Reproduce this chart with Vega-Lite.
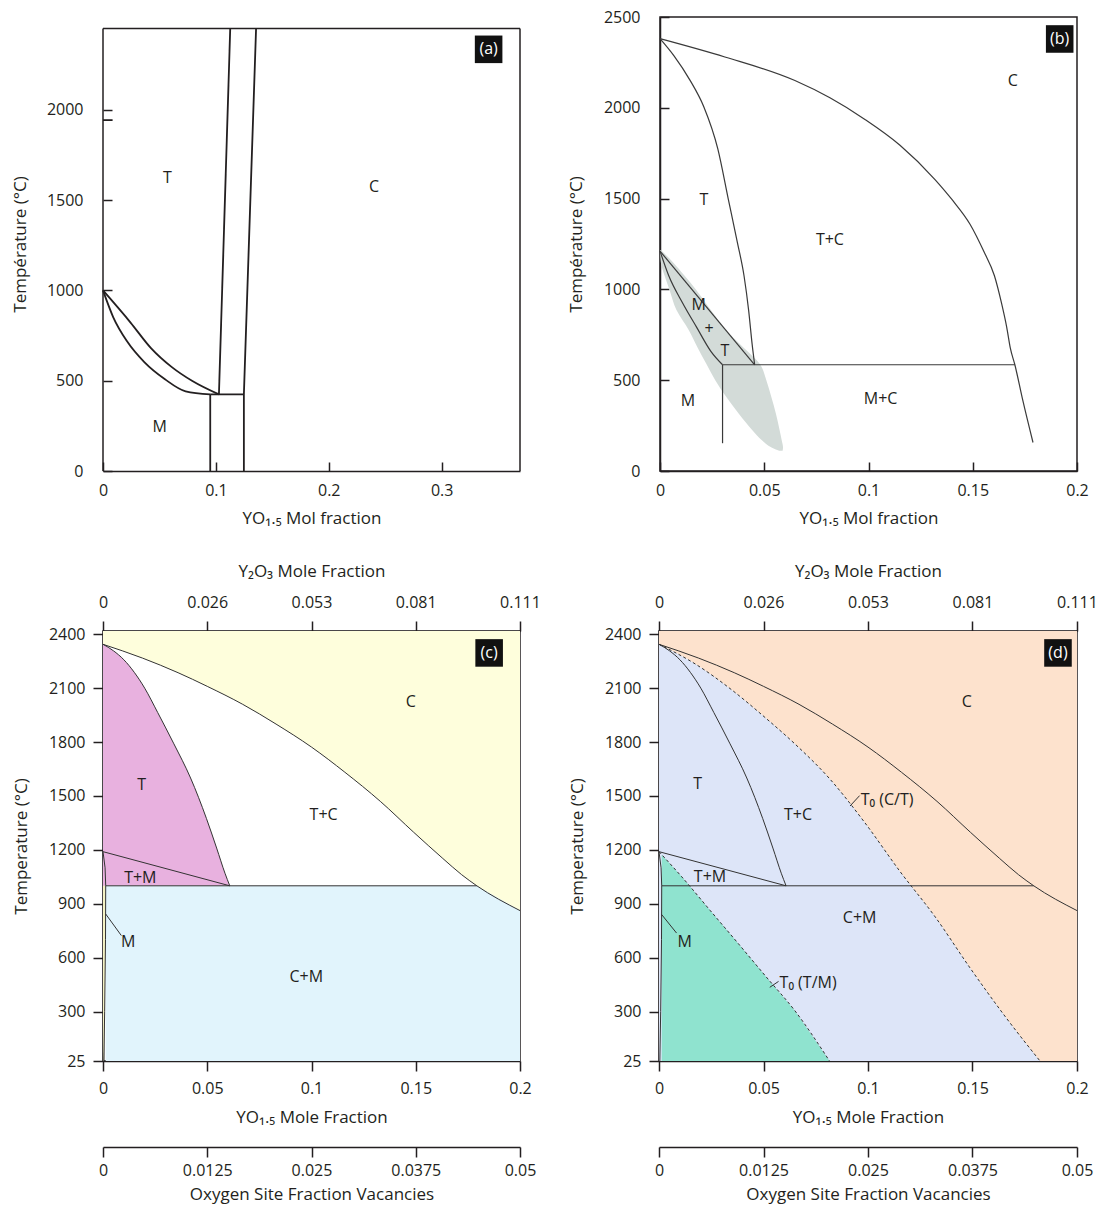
{
  "$schema": "https://vega.github.io/schema/vega-lite/v6.json",
  "background": "white",
  "padding": {"left": 11, "top": 8, "right": 0, "bottom": 0},
  "config": {
    "font": "Open Sans",
    "view": {"stroke": "#231f20", "strokeWidth": 1.5},
    "axis": {"labelFont": "Open Sans", "labelFontSize": 16, "labelColor": "#231f20", "titleFont": "Open Sans", "titleFontSize": 17, "titleFontWeight": "normal", "titleColor": "#231f20", "domainColor": "#231f20", "domainWidth": 1.5, "tickColor": "#231f20", "tickWidth": 1.5, "grid": false, "labelFlush": false, "labelOverlap": false, "format": ".4~g"},
    "text": {"font": "Open Sans", "fontSize": 16, "color": "#231f20"}
  },
  "spacing": 34,
  "vconcat": [
    {
      "spacing": 45,
      "hconcat": [
        {
          "width": 417, "height": 454,
          "view": {"stroke": null},
          "encoding": {
            "x": {"field": "x", "type": "quantitative", "scale": {"domain": [0, 0.3694], "nice": false, "zero": false},
                  "axis": {"values": [0, 0.1, 0.2, 0.3], "tickSize": -9, "labelPadding": 20, "title": "YO₁.₅ Mol fraction", "titlePadding": 12}},
            "y": {"field": "T", "type": "quantitative", "scale": {"domain": [0, 2514], "nice": false, "zero": false},
                  "axis": {"values": [0, 500, 1000, 1500, 2000], "domain": false, "tickSize": -9, "labelPadding": 29, "title": "Température (°C)", "titlePadding": 17}}
          },
          "layer": [
            {
              "data": {"values": [
                {"x": 0, "T": 0, "x2": 0, "T2": 2450},
                {"x": 0, "T": 2450, "x2": 0.3694, "T2": 2450},
                {"x": 0.3694, "T": 0, "x2": 0.3694, "T2": 2450}
              ]},
              "mark": {"type": "rule", "stroke": "#231f20", "strokeWidth": 1.5},
              "encoding": {"x2": {"field": "x2"}, "y2": {"field": "T2"}}
            },
            {
              "data": {"values": [
                {"s": "L1", "x": 0.1127, "T": 2450}, {"s": "L1", "x": 0.1027, "T": 424},
                {"s": "L2", "x": 0.1356, "T": 2450}, {"s": "L2", "x": 0.1248, "T": 424}, {"s": "L2", "x": 0.1248, "T": 0},
                {"s": "H", "x": 0.0950, "T": 424}, {"s": "H", "x": 0.1248, "T": 424},
                {"s": "V", "x": 0.0950, "T": 424}, {"s": "V", "x": 0.0950, "T": 0},
                {"s": "tick", "x": 0, "T": 1943}, {"s": "tick", "x": 0.0085, "T": 1943}
              ]},
              "mark": {"type": "line", "stroke": "#231f20", "strokeWidth": 1.8},
              "encoding": {"detail": {"field": "s"}, "order": {"value": null}}
            },
            {
              "data": {"values": [
                {"s": "U", "x": 0, "T": 1000}, {"s": "U", "x": 0.0244, "T": 822}, {"s": "U", "x": 0.0427, "T": 679}, {"s": "U", "x": 0.0610, "T": 575}, {"s": "U", "x": 0.0792, "T": 498}, {"s": "U", "x": 0.1027, "T": 424},
                {"s": "Lw", "x": 0, "T": 1000}, {"s": "Lw", "x": 0.0091, "T": 851}, {"s": "Lw", "x": 0.0213, "T": 718}, {"s": "Lw", "x": 0.0366, "T": 603}, {"s": "Lw", "x": 0.0549, "T": 508}, {"s": "Lw", "x": 0.0732, "T": 441}, {"s": "Lw", "x": 0.0950, "T": 424}
              ]},
              "mark": {"type": "line", "stroke": "#231f20", "strokeWidth": 1.8, "interpolate": "monotone"},
              "encoding": {"detail": {"field": "s"}}
            },
            {
              "data": {"values": [
                {"label": "T", "x": 0.0570, "T": 1623},
                {"label": "C", "x": 0.2400, "T": 1575},
                {"label": "M", "x": 0.0503, "T": 246}
              ]},
              "mark": {"type": "text", "align": "center", "baseline": "middle"},
              "encoding": {"text": {"field": "label"}}
            },
            {
              "data": {"values": [{"label": "(a)", "x": 0.3416, "T": 2335}]},
              "mark": {"type": "square", "size": 760, "color": "#111111", "opacity": 1, "filled": true}
            },
            {
              "data": {"values": [{"label": "(a)", "x": 0.3416, "T": 2335}]},
              "mark": {"type": "text", "align": "center", "baseline": "middle", "color": "white"},
              "encoding": {"text": {"field": "label"}}
            }
          ]
        },
        {
          "width": 417, "height": 454,
          "encoding": {
            "x": {"field": "x", "type": "quantitative", "scale": {"domain": [0, 0.2], "nice": false, "zero": false},
                  "axis": {"values": [0, 0.05, 0.1, 0.15, 0.2], "tickSize": -9, "labelPadding": 20, "title": "YO₁.₅ Mol fraction", "titlePadding": 12}},
            "y": {"field": "T", "type": "quantitative", "scale": {"domain": [0, 2500], "nice": false, "zero": false},
                  "axis": {"values": [0, 500, 1000, 1500, 2000, 2500], "tickSize": -9, "labelPadding": 29, "title": "Température (°C)", "titlePadding": 18}}
          },
          "layer": [
            {
              "data": {"values": [
                {"T": 1215, "x": 0.0000, "x2": 0.0005},
                {"T": 1150, "x": 0.0004, "x2": 0.0062},
                {"T": 1075, "x": 0.0022, "x2": 0.0118},
                {"T": 1000, "x": 0.0045, "x2": 0.0172},
                {"T": 886, "x": 0.0079, "x2": 0.0244},
                {"T": 774, "x": 0.0139, "x2": 0.0318},
                {"T": 680, "x": 0.0180, "x2": 0.0400},
                {"T": 590, "x": 0.0222, "x2": 0.0478},
                {"T": 500, "x": 0.0265, "x2": 0.0510},
                {"T": 407, "x": 0.0318, "x2": 0.0534},
                {"T": 315, "x": 0.0378, "x2": 0.0556},
                {"T": 223, "x": 0.0444, "x2": 0.0574},
                {"T": 168, "x": 0.0490, "x2": 0.0584},
                {"T": 130, "x": 0.0535, "x2": 0.0590},
                {"T": 112, "x": 0.0572, "x2": 0.0588}
              ]},
              "mark": {"type": "area", "orient": "horizontal", "color": "#d3dbd8", "opacity": 1, "interpolate": "monotone"},
              "encoding": {"x2": {"field": "x2"}}
            },
            {
              "data": {"values": [
                {"s": "TC", "x": 0, "T": 2381}, {"s": "TC", "x": 0.00672, "T": 2286}, {"s": "TC", "x": 0.01428, "T": 2154}, {"s": "TC", "x": 0.0210, "T": 2006}, {"s": "TC", "x": 0.0277, "T": 1775}, {"s": "TC", "x": 0.0328, "T": 1495}, {"s": "TC", "x": 0.0370, "T": 1264}, {"s": "TC", "x": 0.0403, "T": 1075}, {"s": "TC", "x": 0.0425, "T": 886}, {"s": "TC", "x": 0.0442, "T": 697}, {"s": "TC", "x": 0.0454, "T": 585},
                {"s": "CC", "x": 0, "T": 2381}, {"s": "CC", "x": 0.0311, "T": 2280}, {"s": "CC", "x": 0.0647, "T": 2150}, {"s": "CC", "x": 0.0815, "T": 2055}, {"s": "CC", "x": 0.0983, "T": 1936}, {"s": "CC", "x": 0.1151, "T": 1794}, {"s": "CC", "x": 0.1319, "T": 1605}, {"s": "CC", "x": 0.1403, "T": 1491}, {"s": "CC", "x": 0.1487, "T": 1359}, {"s": "CC", "x": 0.1554, "T": 1207}, {"s": "CC", "x": 0.1604, "T": 1075}, {"s": "CC", "x": 0.1638, "T": 924}, {"s": "CC", "x": 0.1663, "T": 791}, {"s": "CC", "x": 0.1680, "T": 678}, {"s": "CC", "x": 0.1702, "T": 585}, {"s": "CC", "x": 0.1739, "T": 394}, {"s": "CC", "x": 0.1789, "T": 157},
                {"s": "LL", "x": 0, "T": 1211}, {"s": "LL", "x": 0.0042, "T": 1075}, {"s": "LL", "x": 0.0109, "T": 924}, {"s": "LL", "x": 0.0176, "T": 791}, {"s": "LL", "x": 0.0244, "T": 659}, {"s": "LL", "x": 0.0300, "T": 585}
              ]},
              "mark": {"type": "line", "stroke": "#3a3a3a", "strokeWidth": 1.2, "interpolate": "monotone"},
              "encoding": {"detail": {"field": "s"}}
            },
            {
              "data": {"values": [
                {"s": "LU", "x": 0, "T": 1211}, {"s": "LU", "x": 0.0454, "T": 585},
                {"s": "H", "x": 0.0300, "T": 585}, {"s": "H", "x": 0.1702, "T": 585},
                {"s": "V", "x": 0.0300, "T": 585}, {"s": "V", "x": 0.0300, "T": 153}
              ]},
              "mark": {"type": "line", "stroke": "#3a3a3a", "strokeWidth": 1.2},
              "encoding": {"detail": {"field": "s"}, "order": {"value": null}}
            },
            {
              "data": {"values": [
                {"label": "T", "x": 0.0210, "T": 1495},
                {"label": "T+C", "x": 0.0815, "T": 1274},
                {"label": "C", "x": 0.1692, "T": 2148},
                {"label": "M", "x": 0.0185, "T": 914},
                {"label": "+", "x": 0.0235, "T": 782},
                {"label": "T", "x": 0.0311, "T": 659},
                {"label": "M", "x": 0.0134, "T": 384},
                {"label": "M+C", "x": 0.1058, "T": 394}
              ]},
              "mark": {"type": "text", "align": "center", "baseline": "middle"},
              "encoding": {"text": {"field": "label"}}
            },
            {
              "data": {"values": [{"label": "(b)", "x": 0.1917, "T": 2379}]},
              "mark": {"type": "square", "size": 760, "color": "#111111", "opacity": 1, "filled": true}
            },
            {
              "data": {"values": [{"label": "(b)", "x": 0.1917, "T": 2379}]},
              "mark": {"type": "text", "align": "center", "baseline": "middle", "color": "white"},
              "encoding": {"text": {"field": "label"}}
            }
          ]
        }
      ]
    },
    {
      "spacing": 25,
      "hconcat": [
        {
          "width": 417, "height": 430,
          "resolve": {"scale": {"x": "independent"}, "axis": {"x": "independent"}},
          "layer": [
            {
              "encoding": {
                "x": {"field": "x", "type": "quantitative", "scale": {"domain": [0, 0.2], "nice": false, "zero": false},
                      "axis": {"orient": "bottom", "values": [0, 0.05, 0.1, 0.15, 0.2], "tickSize": 10, "labelPadding": 9.5, "title": "YO₁.₅ Mole Fraction", "titlePadding": 12.5}},
                "y": {"field": "T", "type": "quantitative", "scale": {"domain": [25, 2418], "nice": false, "zero": false},
                      "axis": {"values": [25, 300, 600, 900, 1200, 1500, 1800, 2100, 2400], "tickSize": 10, "labelPadding": 8, "title": "Temperature (°C)", "titlePadding": 18}}
              },
              "layer": [
                {
                  "data": {"values": [
                    {"x": 0, "T": 2344}, {"x": 0.0190, "T": 2267}, {"x": 0.0360, "T": 2186}, {"x": 0.0500, "T": 2110}, {"x": 0.0670, "T": 2010}, {"x": 0.0830, "T": 1900}, {"x": 0.1000, "T": 1772}, {"x": 0.1160, "T": 1632}, {"x": 0.1330, "T": 1470}, {"x": 0.1490, "T": 1298}, {"x": 0.1630, "T": 1152}, {"x": 0.1720, "T": 1062}, {"x": 0.1793, "T": 1000}, {"x": 0.2, "T": 862}
                  ]},
                  "mark": {"type": "area", "color": "#fefedc", "opacity": 1, "interpolate": "monotone"},
                  "encoding": {"y2": {"datum": 2418}}
                },
                {
                  "data": {"values": [
                    {"T": 1190, "x": 0, "x2": 0}, {"T": 1100, "x": 0, "x2": 0.0010}, {"T": 1000, "x": 0, "x2": 0.0013}, {"T": 700, "x": 0, "x2": 0.0012}, {"T": 300, "x": 0, "x2": 0.0008}, {"T": 25, "x": 0, "x2": 0.0004}
                  ]},
                  "mark": {"type": "area", "orient": "horizontal", "color": "#f4f2c4", "opacity": 1},
                  "encoding": {"x2": {"field": "x2"}}
                },
                {
                  "data": {"values": [
                    {"x": 0, "T": 2344}, {"x": 0.0050, "T": 2308}, {"x": 0.0100, "T": 2258}, {"x": 0.0150, "T": 2188}, {"x": 0.0200, "T": 2100}, {"x": 0.0262, "T": 1965}, {"x": 0.0340, "T": 1790}, {"x": 0.0420, "T": 1600}, {"x": 0.0496, "T": 1375}, {"x": 0.0545, "T": 1210}, {"x": 0.0585, "T": 1070}, {"x": 0.0608, "T": 1000}
                  ]},
                  "mark": {"type": "area", "color": "#e8b1df", "opacity": 1, "interpolate": "monotone"},
                  "encoding": {"y2": {"datum": 1000}}
                },
                {
                  "data": {"values": [
                    {"x": 0.0013, "T": 1000}, {"x": 0.1793, "T": 1000}, {"x": 0.2, "T": 862}
                  ]},
                  "mark": {"type": "area", "color": "#e1f4fc", "opacity": 1},
                  "encoding": {"y2": {"datum": 25}}
                },
                {
                  "data": {"values": [
                    {"s": "C", "x": 0, "T": 2344}, {"s": "C", "x": 0.0190, "T": 2267}, {"s": "C", "x": 0.0360, "T": 2186}, {"s": "C", "x": 0.0500, "T": 2110}, {"s": "C", "x": 0.0670, "T": 2010}, {"s": "C", "x": 0.0830, "T": 1900}, {"s": "C", "x": 0.1000, "T": 1772}, {"s": "C", "x": 0.1160, "T": 1632}, {"s": "C", "x": 0.1330, "T": 1470}, {"s": "C", "x": 0.1490, "T": 1298}, {"s": "C", "x": 0.1630, "T": 1152}, {"s": "C", "x": 0.1720, "T": 1062}, {"s": "C", "x": 0.1793, "T": 1000}, {"s": "C", "x": 0.2, "T": 862},
                    {"s": "T", "x": 0, "T": 2344}, {"s": "T", "x": 0.0050, "T": 2308}, {"s": "T", "x": 0.0100, "T": 2258}, {"s": "T", "x": 0.0150, "T": 2188}, {"s": "T", "x": 0.0200, "T": 2100}, {"s": "T", "x": 0.0262, "T": 1965}, {"s": "T", "x": 0.0340, "T": 1790}, {"s": "T", "x": 0.0420, "T": 1600}, {"s": "T", "x": 0.0496, "T": 1375}, {"s": "T", "x": 0.0545, "T": 1210}, {"s": "T", "x": 0.0585, "T": 1070}, {"s": "T", "x": 0.0608, "T": 1000}
                  ]},
                  "mark": {"type": "line", "stroke": "#333333", "strokeWidth": 1, "interpolate": "monotone"},
                  "encoding": {"detail": {"field": "s"}}
                },
                {
                  "data": {"values": [
                    {"s": "TM", "x": 0, "T": 1190}, {"s": "TM", "x": 0.0608, "T": 1000},
                    {"s": "H", "x": 0.0013, "T": 1000}, {"s": "H", "x": 0.1793, "T": 1000},
                    {"s": "M", "x": 0, "T": 1190}, {"s": "M", "x": 0.0010, "T": 1100}, {"s": "M", "x": 0.0013, "T": 1000}, {"s": "M", "x": 0.0012, "T": 700}, {"s": "M", "x": 0.0008, "T": 300}, {"s": "M", "x": 0.0004, "T": 25},
                    {"s": "ML", "x": 0.0013, "T": 843}, {"s": "ML", "x": 0.0088, "T": 723}
                  ]},
                  "mark": {"type": "line", "stroke": "#333333", "strokeWidth": 1},
                  "encoding": {"detail": {"field": "s"}, "order": {"value": null}}
                },
                {
                  "data": {"values": [
                    {"label": "C", "x": 0.1476, "T": 2023},
                    {"label": "T", "x": 0.0185, "T": 1563},
                    {"label": "T+C", "x": 0.1058, "T": 1396},
                    {"label": "T+M", "x": 0.0179, "T": 1043},
                    {"label": "M", "x": 0.0121, "T": 687},
                    {"label": "C+M", "x": 0.0975, "T": 494}
                  ]},
                  "mark": {"type": "text", "align": "center", "baseline": "middle"},
                  "encoding": {"text": {"field": "label"}}
                },
                {
                  "data": {"values": [{"label": "(c)", "x": 0.1852, "T": 2296}]},
                  "mark": {"type": "square", "size": 760, "color": "#111111", "opacity": 1, "filled": true}
                },
                {
                  "data": {"values": [{"label": "(c)", "x": 0.1852, "T": 2296}]},
                  "mark": {"type": "text", "align": "center", "baseline": "middle", "color": "white"},
                  "encoding": {"text": {"field": "label"}}
                }
              ]
            },
            {
              "data": {"values": [{"x": 0, "T": 1000}, {"x": 0.2, "T": 1000}]},
              "mark": {"type": "point", "opacity": 0},
              "encoding": {
                "x": {"field": "x", "type": "quantitative", "scale": {"domain": [0, 0.2], "nice": false, "zero": false},
                  "axis": {"orient": "top", "values": [0, 0.05, 0.1, 0.15, 0.2], "labelExpr": "datum.value == 0 ? '0' : format(datum.value/(2-datum.value), '.3f')", "tickSize": 10, "labelPadding": 10.5, "title": "Y₂O₃ Mole Fraction", "titlePadding": 14.5}},
                "y": {"field": "T", "type": "quantitative", "scale": {"domain": [25, 2418], "nice": false, "zero": false}, "axis": {"values": [25, 300, 600, 900, 1200, 1500, 1800, 2100, 2400], "tickSize": 10, "labelPadding": 8, "title": "Temperature (°C)", "titlePadding": 18}}
              }
            },
            {
              "data": {"values": [{"v": 0, "T": 1000}, {"v": 0.05, "T": 1000}]},
              "mark": {"type": "point", "opacity": 0},
              "encoding": {
                "x": {"field": "v", "type": "quantitative", "scale": {"domain": [0, 0.05], "nice": false, "zero": false},
                  "axis": {"orient": "bottom", "offset": 86, "values": [0, 0.0125, 0.025, 0.0375, 0.05], "tickSize": 10, "labelPadding": 5.5, "title": "Oxygen Site Fraction Vacancies", "titlePadding": 8}},
                "y": {"field": "T", "type": "quantitative", "scale": {"domain": [25, 2418], "nice": false, "zero": false}, "axis": {"values": [25, 300, 600, 900, 1200, 1500, 1800, 2100, 2400], "tickSize": 10, "labelPadding": 8, "title": "Temperature (°C)", "titlePadding": 18}}
              }
            }
          ]
        },
        {
          "width": 418, "height": 430,
          "resolve": {"scale": {"x": "independent"}, "axis": {"x": "independent"}},
          "layer": [
            {
              "encoding": {
                "x": {"field": "x", "type": "quantitative", "scale": {"domain": [0, 0.2], "nice": false, "zero": false},
                      "axis": {"orient": "bottom", "values": [0, 0.05, 0.1, 0.15, 0.2], "tickSize": 10, "labelPadding": 9.5, "title": "YO₁.₅ Mole Fraction", "titlePadding": 12.5}},
                "y": {"field": "T", "type": "quantitative", "scale": {"domain": [25, 2418], "nice": false, "zero": false},
                      "axis": {"values": [25, 300, 600, 900, 1200, 1500, 1800, 2100, 2400], "tickSize": 10, "labelPadding": 8, "title": "Temperature (°C)", "titlePadding": 18}}
              },
              "layer": [
                {
                  "data": {"values": [
                    {"x": 0, "T": 2344}, {"x": 0.0177, "T": 2232}, {"x": 0.0345, "T": 2093}, {"x": 0.0513, "T": 1931}, {"x": 0.0648, "T": 1792}, {"x": 0.0817, "T": 1595}, {"x": 0.0985, "T": 1351}, {"x": 0.1153, "T": 1080}, {"x": 0.1322, "T": 826}, {"x": 0.1490, "T": 540}, {"x": 0.1658, "T": 270}, {"x": 0.1823, "T": 25}, {"x": 0.2, "T": 25}
                  ]},
                  "mark": {"type": "area", "color": "#fde2cd", "opacity": 1, "interpolate": "monotone"},
                  "encoding": {"y2": {"datum": 2418}}
                },
                {
                  "data": {"values": [
                    {"x": 0, "T": 2344}, {"x": 0.0177, "T": 2232}, {"x": 0.0345, "T": 2093}, {"x": 0.0513, "T": 1931}, {"x": 0.0648, "T": 1792}, {"x": 0.0817, "T": 1595}, {"x": 0.0985, "T": 1351}, {"x": 0.1153, "T": 1080}, {"x": 0.1322, "T": 826}, {"x": 0.1490, "T": 540}, {"x": 0.1658, "T": 270}, {"x": 0.1823, "T": 25}
                  ]},
                  "mark": {"type": "area", "color": "#dde5f8", "opacity": 1, "interpolate": "monotone"},
                  "encoding": {"y2": {"datum": 25}}
                },
                {
                  "data": {"values": [
                    {"x": 0.0013, "T": 1173}, {"x": 0.0109, "T": 1050}, {"x": 0.0244, "T": 864}, {"x": 0.0379, "T": 679}, {"x": 0.0513, "T": 493}, {"x": 0.0648, "T": 308}, {"x": 0.0816, "T": 25}
                  ]},
                  "mark": {"type": "area", "color": "#8fe3cf", "opacity": 1},
                  "encoding": {"y2": {"datum": 25}}
                },
                {
                  "data": {"values": [
                    {"s": "C", "x": 0, "T": 2344}, {"s": "C", "x": 0.0190, "T": 2267}, {"s": "C", "x": 0.0360, "T": 2186}, {"s": "C", "x": 0.0500, "T": 2110}, {"s": "C", "x": 0.0670, "T": 2010}, {"s": "C", "x": 0.0830, "T": 1900}, {"s": "C", "x": 0.1000, "T": 1772}, {"s": "C", "x": 0.1160, "T": 1632}, {"s": "C", "x": 0.1330, "T": 1470}, {"s": "C", "x": 0.1490, "T": 1298}, {"s": "C", "x": 0.1630, "T": 1152}, {"s": "C", "x": 0.1720, "T": 1062}, {"s": "C", "x": 0.1793, "T": 1000}, {"s": "C", "x": 0.2, "T": 862},
                    {"s": "T", "x": 0, "T": 2344}, {"s": "T", "x": 0.0050, "T": 2308}, {"s": "T", "x": 0.0100, "T": 2258}, {"s": "T", "x": 0.0150, "T": 2188}, {"s": "T", "x": 0.0200, "T": 2100}, {"s": "T", "x": 0.0262, "T": 1965}, {"s": "T", "x": 0.0340, "T": 1790}, {"s": "T", "x": 0.0420, "T": 1600}, {"s": "T", "x": 0.0496, "T": 1375}, {"s": "T", "x": 0.0545, "T": 1210}, {"s": "T", "x": 0.0585, "T": 1070}, {"s": "T", "x": 0.0608, "T": 1000}
                  ]},
                  "mark": {"type": "line", "stroke": "#333333", "strokeWidth": 1, "interpolate": "monotone"},
                  "encoding": {"detail": {"field": "s"}}
                },
                {
                  "data": {"values": [
                    {"s": "TM", "x": 0, "T": 1190}, {"s": "TM", "x": 0.0608, "T": 1000},
                    {"s": "H", "x": 0.0013, "T": 1000}, {"s": "H", "x": 0.1793, "T": 1000},
                    {"s": "M", "x": 0, "T": 1190}, {"s": "M", "x": 0.0010, "T": 1100}, {"s": "M", "x": 0.0013, "T": 1000}, {"s": "M", "x": 0.0012, "T": 700}, {"s": "M", "x": 0.0008, "T": 300}, {"s": "M", "x": 0.0004, "T": 25},
                    {"s": "ML", "x": 0.0012, "T": 841}, {"s": "ML", "x": 0.0084, "T": 737},
                    {"s": "L1", "x": 0.0914, "T": 1444}, {"s": "L1", "x": 0.0960, "T": 1502},
                    {"s": "L2", "x": 0.0530, "T": 435}, {"s": "L2", "x": 0.0572, "T": 468}
                  ]},
                  "mark": {"type": "line", "stroke": "#333333", "strokeWidth": 1},
                  "encoding": {"detail": {"field": "s"}, "order": {"value": null}}
                },
                {
                  "data": {"values": [
                    {"s": "CT", "x": 0, "T": 2344}, {"s": "CT", "x": 0.0177, "T": 2232}, {"s": "CT", "x": 0.0345, "T": 2093}, {"s": "CT", "x": 0.0513, "T": 1931}, {"s": "CT", "x": 0.0648, "T": 1792}, {"s": "CT", "x": 0.0817, "T": 1595}, {"s": "CT", "x": 0.0985, "T": 1351}, {"s": "CT", "x": 0.1153, "T": 1080}, {"s": "CT", "x": 0.1322, "T": 826}, {"s": "CT", "x": 0.1490, "T": 540}, {"s": "CT", "x": 0.1658, "T": 270}, {"s": "CT", "x": 0.1823, "T": 25},
                    {"s": "TMo", "x": 0, "T": 1190}, {"s": "TMo", "x": 0.0109, "T": 1050}, {"s": "TMo", "x": 0.0244, "T": 864}, {"s": "TMo", "x": 0.0379, "T": 679}, {"s": "TMo", "x": 0.0513, "T": 493}, {"s": "TMo", "x": 0.0648, "T": 308}, {"s": "TMo", "x": 0.0816, "T": 25}
                  ]},
                  "mark": {"type": "line", "stroke": "#333333", "strokeWidth": 1, "strokeDash": [3, 2.5], "interpolate": "monotone"},
                  "encoding": {"detail": {"field": "s"}}
                },
                {
                  "data": {"values": [
                    {"label": "C", "x": 0.1473, "T": 2024},
                    {"label": "T", "x": 0.0185, "T": 1565},
                    {"label": "T+C", "x": 0.0665, "T": 1393},
                    {"label": "T+M", "x": 0.0244, "T": 1050},
                    {"label": "C+M", "x": 0.0960, "T": 823},
                    {"label": "M", "x": 0.0123, "T": 690}
                  ]},
                  "mark": {"type": "text", "align": "center", "baseline": "middle"},
                  "encoding": {"text": {"field": "label"}}
                },
                {
                  "data": {"values": [
                    {"label": "T₀ (C/T)", "x": 0.0965, "T": 1479},
                    {"label": "T₀ (T/M)", "x": 0.0577, "T": 459}
                  ]},
                  "mark": {"type": "text", "align": "left", "baseline": "middle"},
                  "encoding": {"text": {"field": "label"}}
                },
                {
                  "data": {"values": [{"label": "(d)", "x": 0.1909, "T": 2296}]},
                  "mark": {"type": "square", "size": 760, "color": "#111111", "opacity": 1, "filled": true}
                },
                {
                  "data": {"values": [{"label": "(d)", "x": 0.1909, "T": 2296}]},
                  "mark": {"type": "text", "align": "center", "baseline": "middle", "color": "white"},
                  "encoding": {"text": {"field": "label"}}
                }
              ]
            },
            {
              "data": {"values": [{"x": 0, "T": 1000}, {"x": 0.2, "T": 1000}]},
              "mark": {"type": "point", "opacity": 0},
              "encoding": {
                "x": {"field": "x", "type": "quantitative", "scale": {"domain": [0, 0.2], "nice": false, "zero": false},
                  "axis": {"orient": "top", "values": [0, 0.05, 0.1, 0.15, 0.2], "labelExpr": "datum.value == 0 ? '0' : format(datum.value/(2-datum.value), '.3f')", "tickSize": 10, "labelPadding": 10.5, "title": "Y₂O₃ Mole Fraction", "titlePadding": 14.5}},
                "y": {"field": "T", "type": "quantitative", "scale": {"domain": [25, 2418], "nice": false, "zero": false}, "axis": {"values": [25, 300, 600, 900, 1200, 1500, 1800, 2100, 2400], "tickSize": 10, "labelPadding": 8, "title": "Temperature (°C)", "titlePadding": 18}}
              }
            },
            {
              "data": {"values": [{"v": 0, "T": 1000}, {"v": 0.05, "T": 1000}]},
              "mark": {"type": "point", "opacity": 0},
              "encoding": {
                "x": {"field": "v", "type": "quantitative", "scale": {"domain": [0, 0.05], "nice": false, "zero": false},
                  "axis": {"orient": "bottom", "offset": 86, "values": [0, 0.0125, 0.025, 0.0375, 0.05], "tickSize": 10, "labelPadding": 5.5, "title": "Oxygen Site Fraction Vacancies", "titlePadding": 8}},
                "y": {"field": "T", "type": "quantitative", "scale": {"domain": [25, 2418], "nice": false, "zero": false}, "axis": {"values": [25, 300, 600, 900, 1200, 1500, 1800, 2100, 2400], "tickSize": 10, "labelPadding": 8, "title": "Temperature (°C)", "titlePadding": 18}}
              }
            }
          ]
        }
      ]
    }
  ]
}
